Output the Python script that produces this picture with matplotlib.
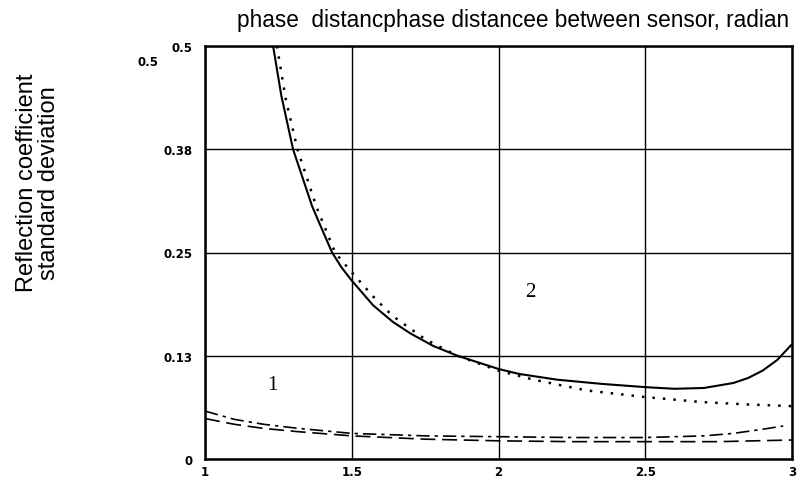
import numpy as np
import matplotlib
matplotlib.use("Agg")
import matplotlib.pyplot as plt

# curve 2 (solid) and its dotted companion
solid_x = [1.232, 1.26, 1.30, 1.365, 1.40, 1.433, 1.465, 1.5, 1.573, 1.64, 1.70, 1.777, 1.86,
           2.0, 2.07, 2.2, 2.35, 2.5, 2.6, 2.7, 2.8, 2.85, 2.9, 2.95, 3.0]
solid_y = [0.5, 0.44, 0.375, 0.306, 0.277, 0.25, 0.232, 0.216, 0.186, 0.166, 0.152, 0.137, 0.125,
           0.109, 0.103, 0.096, 0.091, 0.087, 0.085, 0.086, 0.092, 0.098, 0.107, 0.12, 0.139]

dot_x = [1.245, 1.275, 1.315, 1.38, 1.443, 1.5, 1.58, 1.64, 1.75, 1.86, 2.0, 2.12,
         2.3, 2.5, 2.69, 2.85, 3.0]
dot_y = [0.5, 0.436, 0.375, 0.305, 0.25, 0.226, 0.194, 0.173, 0.145, 0.125, 0.107, 0.096,
         0.083, 0.075, 0.069, 0.066, 0.064]

# curve 1 (dash-dot and dashed)
dd_x = [1.0, 1.1, 1.2, 1.32, 1.5, 1.75, 2.0, 2.25, 2.5, 2.7, 2.8, 2.9, 2.97]
dd_y = [0.058, 0.048, 0.042, 0.037, 0.031, 0.028, 0.027, 0.026, 0.026, 0.028, 0.031, 0.036, 0.040]

da_x = [1.0, 1.1, 1.2, 1.32, 1.5, 1.75, 2.0, 2.25, 2.5, 2.75, 3.0]
da_y = [0.049, 0.042, 0.037, 0.033, 0.028, 0.024, 0.022, 0.021, 0.021, 0.021, 0.023]

xticks = [1, 1.5, 2, 2.5, 3]
xtick_labels = ["1", "1.5", "2", "2.5", "3"]
yticks = [0, 0.125, 0.25, 0.375, 0.5]
ytick_labels = ["0", "0.13", "0.25", "0.38", "0.5"]

fig = plt.figure(figsize=(8.02, 4.85), dpi=100)
ax = fig.add_axes([205 / 802, 25 / 485, 587 / 802, 413 / 485])

ax.plot(solid_x, solid_y, color="black", lw=1.5, solid_capstyle="butt")
ax.plot(dot_x, dot_y, color="black", lw=1.8, linestyle=(0, (1, 3.2)))
ax.plot(dd_x, dd_y, color="black", lw=1.2, linestyle=(0, (8, 3, 2, 3)))
ax.plot(da_x, da_y, color="black", lw=1.2, linestyle=(0, (9, 4)))

ax.set_xlim(1, 3)
ax.set_ylim(0, 0.5)
ax.set_xticks(xticks)
ax.set_xticklabels(xtick_labels)
ax.set_yticks(yticks)
ax.set_yticklabels(ytick_labels)
ax.tick_params(length=0, pad=9, labelsize=8.5)
for lab in ax.get_xticklabels() + ax.get_yticklabels():
    lab.set_fontweight("bold")
ax.tick_params(axis="x", pad=4)
ax.grid(True, color="black", lw=1.0)
for s in ax.spines.values():
    s.set_linewidth(1.8)

ax.text(1.228, 0.0896, "1", family="Liberation Serif", fontsize=15, ha="center", va="center")
ax.text(2.107, 0.203, "2", family="Liberation Serif", fontsize=15, ha="center", va="center")

# duplicated label left of the axis, as in the scan
fig.text(148 / 802, 1 - 62 / 485, "0.5", fontsize=8.5, fontweight="bold", ha="center", va="center")

fig.text(513 / 802, 1 - 20 / 485, "phase  distancphase distancee between sensor, radian",
         family="Liberation Sans", fontsize=16.3, ha="center", va="center")
fig.text(38 / 802, 1 - 183 / 485, "Reflection coefficient\nstandard deviation",
         family="Liberation Sans", fontsize=17, ha="center", va="center", rotation=90,
         linespacing=1.05)

fig.savefig("out.png", dpi=100)
